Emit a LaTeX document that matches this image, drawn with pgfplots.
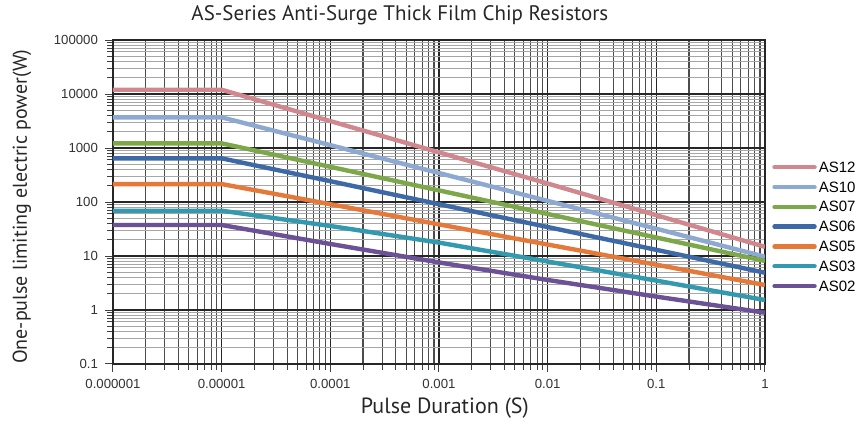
\documentclass[border=0pt]{standalone}
\usepackage{fontspec}
\setmainfont{Liberation Sans}
\newfontfamily\ptsans{PT Sans}
\usepackage{pgfplots}
\pgfplotsset{compat=1.18}
\definecolor{cAS12}{HTML}{D0888E}
\definecolor{cAS10}{HTML}{8DA9D1}
\definecolor{cAS07}{HTML}{7DA84A}
\definecolor{cAS06}{HTML}{3D6AA7}
\definecolor{cAS05}{HTML}{E4793A}
\definecolor{cAS03}{HTML}{3399AE}
\definecolor{cAS02}{HTML}{6C5196}
\begin{document}
\begin{tikzpicture}
\useasboundingbox (-56.5pt,-29.5pt) rectangle (372.5pt,182pt);
\begin{axis}[
  at={(0,0)}, anchor=south west,
  scale only axis, width=326pt, height=162pt,
  xmode=log, ymode=log, log basis x=10, log basis y=10,
  xmin=1e-6, xmax=1, ymin=0.1, ymax=1e5,
  xtick={1e-6,1e-5,1e-4,1e-3,1e-2,1e-1,1},
  xticklabels={0.000001,0.00001,0.0001,0.001,0.01,0.1,1},
  ytick={0.1,1,10,100,1000,10000,100000},
  yticklabels={0.1,1,10,100,1000,10000,100000},
  minor xtick={2e-6,3e-6,4e-6,5e-6,6e-6,7e-6,8e-6,9e-6,
    2e-5,3e-5,4e-5,5e-5,6e-5,7e-5,8e-5,9e-5,
    2e-4,3e-4,4e-4,5e-4,6e-4,7e-4,8e-4,9e-4,
    2e-3,3e-3,4e-3,5e-3,6e-3,7e-3,8e-3,9e-3,
    2e-2,3e-2,4e-2,5e-2,6e-2,7e-2,8e-2,9e-2,
    0.2,0.3,0.4,0.5,0.6,0.7,0.8,0.9},
  minor ytick={0.2,0.3,0.4,0.5,0.6,0.7,0.8,0.9,
    2,3,4,5,6,7,8,9,20,30,40,50,60,70,80,90,
    200,300,400,500,600,700,800,900,
    2000,3000,4000,5000,6000,7000,8000,9000,
    20000,30000,40000,50000,60000,70000,80000,90000},
  grid=both,
  major grid style={black!85, line width=0.55pt},
  minor x grid style={black!70, line width=0.55pt},
  minor y grid style={black!35, line width=0.5pt},
  axis line style={black!85, line width=0.55pt},
  tick align=outside, tick pos=left,
  major tick length=4pt, minor tick length=3pt,
  tick style={black!75, line width=0.5pt},
  tick label style={font=\fontsize{6.6}{7}\selectfont, text=black!80},
  title={AS-Series Anti-Surge Thick Film Chip Resistors},
  title style={font=\ptsans\fontsize{10.5}{11}\selectfont, text=black!85, at={(axis description cs:0.44,1.077)}, anchor=center, yshift=-6pt},
  xlabel={Pulse Duration (S)},
  xlabel style={font=\ptsans\fontsize{11}{12}\selectfont, text=black!85, at={(axis description cs:0.509,-0.136)}, anchor=center},
  ylabel={One-pulse limiting electric power(W)},
  ylabel style={font=\ptsans\fontsize{10}{11}\selectfont, text=black!85, at={(axis description cs:-0.1396,0.485)}, anchor=center},
  legend style={at={(axis description cs:1.0107,0.63)}, anchor=north west, draw=none, fill=none, inner sep=0pt,
    font=\fontsize{7.5}{8}\selectfont, row sep=2.9pt, nodes={inner sep=1pt, text height=5pt, text depth=0pt}},
  legend cell align=left,
  legend image code/.code={\draw[#1, line cap=round] (1.25pt,0pt) -- (21.25pt,0pt);},
  every axis plot/.append style={line width=2.2pt, line join=round, no markers},
]
\addplot[cAS12] coordinates {(1e-6,12000) (1e-5,12000) (1e-4,3150) (1e-3,830) (1e-2,220) (0.1,57) (1,14.8)};
\addplot[cAS10] coordinates {(1e-6,3700) (1e-5,3700) (1e-4,1130) (1e-3,344) (1e-2,105) (0.1,32) (1,9.7)};
\addplot[cAS07] coordinates {(1e-6,1220) (1e-5,1220) (1e-4,448) (1e-3,164) (1e-2,60) (0.1,22) (1,8.1)};
\addplot[cAS06] coordinates {(1e-6,644) (1e-5,644) (1e-4,243) (1e-3,91) (1e-2,34.4) (0.1,13) (1,4.9)};
\addplot[cAS05] coordinates {(1e-6,215) (1e-5,215) (1e-4,91) (1e-3,38.5) (1e-2,16.3) (0.1,6.9) (1,2.9)};
\addplot[cAS03] coordinates {(1e-6,69) (1e-5,69) (1e-4,36) (1e-3,17.7) (1e-2,7.9) (0.1,3.5) (1,1.53)};
\addplot[cAS02] coordinates {(1e-6,37.5) (1e-5,37.5) (1e-4,16.7) (1e-3,7.6) (1e-2,3.6) (0.1,1.77) (1,0.89)};
\legend{AS12,AS10,AS07,AS06,AS05,AS03,AS02}
\end{axis}
\end{tikzpicture}
\end{document}
